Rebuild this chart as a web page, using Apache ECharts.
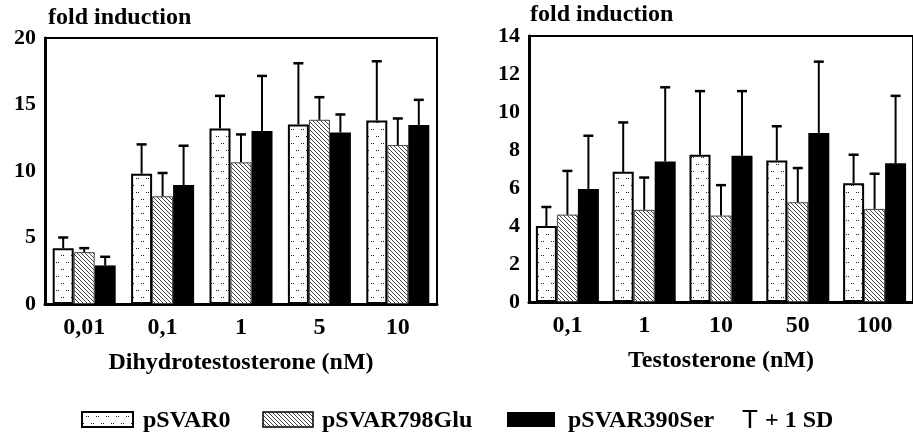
<!DOCTYPE html>
<html>
<head>
<meta charset="utf-8">
<script src="https://cdn.jsdelivr.net/npm/echarts@6/dist/echarts.min.js"></script>
<style>
  html, body { margin: 0; padding: 0; background: #fff; }
  #chart { width: 913px; height: 436px; }
</style>
</head>
<body>
<div id="chart"></div>
<script>
// Dihydrotestosterone panel (fold induction, mean and +1 SD)
const dhtCats = ['0,01', '0,1', '1', '5', '10']
const dhtSVAR0 = [4.2, 9.8, 13.2, 13.5, 13.8]
const dhtSVAR0SD = [0.8, 2.2, 2.45, 4.6, 4.45]
const dhtSVAR798 = [3.9, 8.1, 10.65, 13.85, 11.95]
const dhtSVAR798SD = [0.3, 1.75, 2.1, 1.7, 2.0]
const dhtSVAR390 = [2.9, 8.95, 13.0, 12.9, 13.45]
const dhtSVAR390SD = [0.65, 2.95, 4.15, 1.35, 1.9]

// Testosterone panel
const testoCats = ['0,1', '1', '10', '50', '100']
const testoSVAR0 = [4.0, 6.85, 7.75, 7.45, 6.25]
const testoSVAR0SD = [1.0, 2.6, 3.35, 1.8, 1.5]
const testoSVAR798 = [4.6, 4.85, 4.55, 5.25, 4.9]
const testoSVAR798SD = [2.3, 1.7, 1.6, 1.8, 1.85]
const testoSVAR390 = [5.95, 7.4, 7.7, 8.9, 7.3]
const testoSVAR390SD = [2.8, 3.9, 3.4, 3.75, 3.55]

const dhtTicks = { min: 0, max: 20, interval: 5 }
const testoTicks = { min: 0, max: 14, interval: 2 }

const SERIF = "'Liberation Serif', 'Times New Roman', serif"
const BW = 21 // bar width in px, also used to place error bars

// fill patterns
function dotPattern() {
  const c = document.createElement('canvas')
  c.width = 10; c.height = 14
  const ctx = c.getContext('2d')
  ctx.fillStyle = '#fff'
  ctx.fillRect(0, 0, 10, 14)
  ctx.fillStyle = '#222'
  ;[[1, 3], [3, 3], [6, 10], [8, 10]].forEach(([x, y]) => ctx.fillRect(x, y, 1, 1))
  return c
}
function hatchPattern() {
  const c = document.createElement('canvas')
  c.width = 4; c.height = 4
  const ctx = c.getContext('2d')
  ctx.fillStyle = '#fff'
  ctx.fillRect(0, 0, 4, 4)
  ctx.strokeStyle = '#444'
  ctx.lineWidth = 1
  ctx.beginPath()
  ctx.moveTo(-1, -1); ctx.lineTo(5, 5)
  ctx.moveTo(-1, 3); ctx.lineTo(1, 5)
  ctx.moveTo(3, -1); ctx.lineTo(5, 1)
  ctx.stroke()
  return c
}
const dots = { image: dotPattern(), repeat: 'repeat' }
const hatch = { image: hatchPattern(), repeat: 'repeat' }

const styles = [
  { color: dots, borderColor: '#000', borderWidth: 2 },
  { color: hatch, borderColor: '#444', borderWidth: 1 },
  { color: '#000' },
]

function errSeries(axis, k, mean, sd) {
  return {
    type: 'custom',
    xAxisIndex: axis,
    yAxisIndex: axis,
    z: 5,
    encode: { x: 0, y: [1, 2] },
    data: mean.map((v, i) => [i, v, v + sd[i]]),
    renderItem: (params, api) => {
      const i = api.value(0)
      const base = api.coord([i, api.value(1)])
      const top = api.coord([i, api.value(2)])
      const cx = top[0] + (k - 1) * BW
      return {
        type: 'group',
        children: [
          { type: 'line', shape: { x1: cx, y1: base[1], x2: cx, y2: top[1] }, style: { stroke: '#000', lineWidth: 2 } },
          { type: 'line', shape: { x1: cx - 5, y1: top[1], x2: cx + 5, y2: top[1] }, style: { stroke: '#000', lineWidth: 2.5 } },
        ],
      }
    },
  }
}

function barSeries(axis, k, data) {
  return {
    type: 'bar',
    xAxisIndex: axis,
    yAxisIndex: axis,
    data,
    barWidth: BW,
    barGap: '0%',
    itemStyle: styles[k],
    silent: true,
  }
}

const axisLine = { show: true, lineStyle: { color: '#000', width: 3 } }
const labelStyle = { color: '#000', fontFamily: SERIF, fontWeight: 'bold' }

function xAxis(idx, cats, name) {
  return {
    type: 'category',
    gridIndex: idx,
    data: cats,
    axisLine,
    axisTick: { show: false },
    axisLabel: { ...labelStyle, fontSize: 24, margin: 12 },
    name,
    nameLocation: 'middle',
    nameGap: 47,
    nameTextStyle: { ...labelStyle, fontSize: 24 },
  }
}
function yAxis(idx, ticks) {
  return {
    type: 'value',
    gridIndex: idx,
    ...ticks,
    axisLine,
    axisTick: { show: false },
    splitLine: { show: false },
    axisLabel: { ...labelStyle, fontSize: 22, margin: 9 },
  }
}

function legendItems() {
  const txt = (x, text, extra) => ({
    type: 'text', x, y: 421,
    style: { text, fill: '#000', font: 'bold 24px ' + SERIF, verticalAlign: 'middle', ...extra },
  })
  return [
    { type: 'rect', shape: { x: 82, y: 412, width: 51, height: 15 }, style: { fill: dots, stroke: '#000', lineWidth: 2 } },
    txt(143, 'pSVAR0'),
    { type: 'rect', shape: { x: 263, y: 412, width: 50, height: 15 }, style: { fill: hatch, stroke: '#000', lineWidth: 1.5 } },
    txt(322, 'pSVAR798Glu'),
    { type: 'rect', shape: { x: 507, y: 412, width: 48, height: 15 }, style: { fill: '#000' } },
    txt(568, 'pSVAR390Ser'),
    txt(742, 'T', { font: '26px "Liberation Sans", Arial, sans-serif' }),
    txt(765, '+ 1 SD'),
  ]
}

const chart = echarts.init(document.getElementById('chart'))

chart.setOption({
  animation: false,
  backgroundColor: '#fff',
  title: [
    { text: 'fold induction', left: 48, top: 6, padding: 0, textStyle: { ...labelStyle, fontSize: 24 } },
    { text: 'fold induction', left: 530, top: 3, padding: 0, textStyle: { ...labelStyle, fontSize: 24 } },
  ],
  grid: [
    { left: 45, top: 38, width: 392, height: 266, show: true, borderColor: '#000', borderWidth: 2 },
    { left: 529, top: 36, width: 390, height: 266, show: true, borderColor: '#000', borderWidth: 2 },
  ],
  xAxis: [
    xAxis(0, dhtCats, 'Dihydrotestosterone (nM)'),
    xAxis(1, testoCats, 'Testosterone (nM)'),
  ],
  yAxis: [yAxis(0, dhtTicks), yAxis(1, testoTicks)],
  series: [
    barSeries(0, 0, dhtSVAR0),
    barSeries(0, 1, dhtSVAR798),
    barSeries(0, 2, dhtSVAR390),
    barSeries(1, 0, testoSVAR0),
    barSeries(1, 1, testoSVAR798),
    barSeries(1, 2, testoSVAR390),
    errSeries(0, 0, dhtSVAR0, dhtSVAR0SD),
    errSeries(0, 1, dhtSVAR798, dhtSVAR798SD),
    errSeries(0, 2, dhtSVAR390, dhtSVAR390SD),
    errSeries(1, 0, testoSVAR0, testoSVAR0SD),
    errSeries(1, 1, testoSVAR798, testoSVAR798SD),
    errSeries(1, 2, testoSVAR390, testoSVAR390SD),
  ],
  graphic: legendItems(),
})
</script>
</body>
</html>
